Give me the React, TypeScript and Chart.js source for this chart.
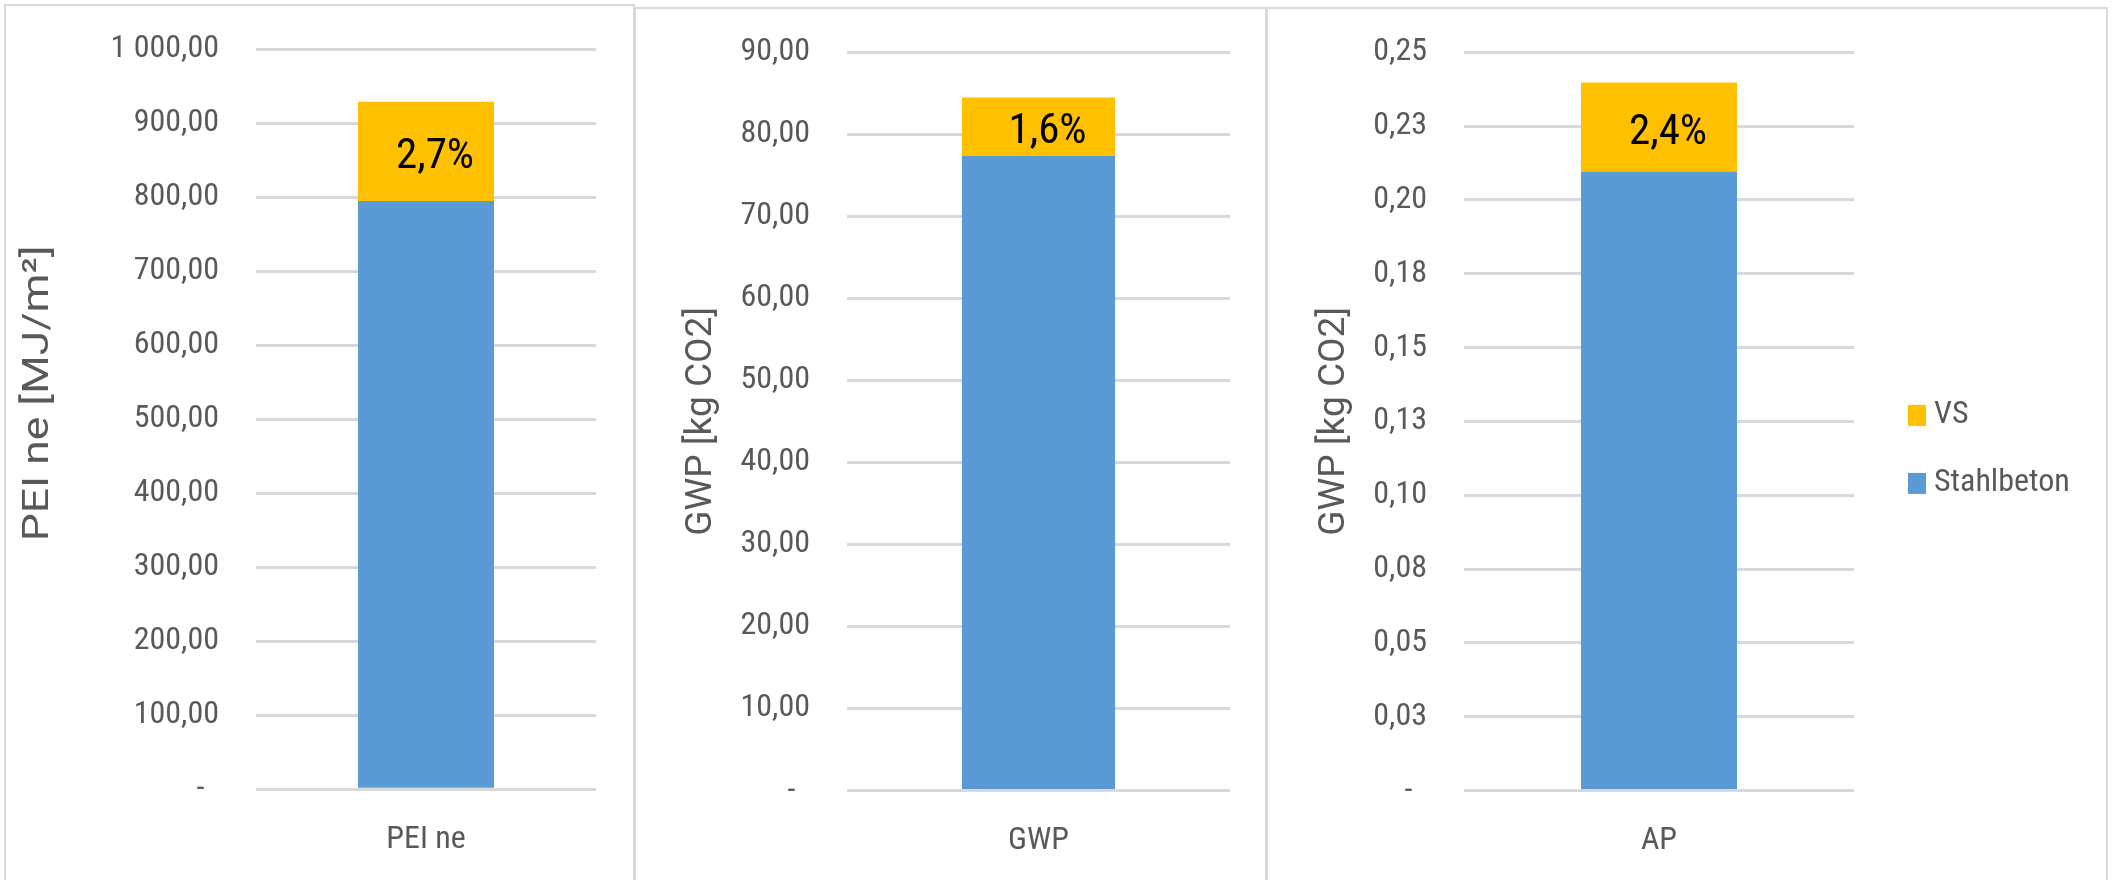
import React, { useEffect, useRef } from "react";
import { Chart, registerables } from "chart.js";

Chart.register(...registerables);

// ---------- data ----------
const SERIES_NAMES = ["Stahlbeton", "VS"];
const SERIES_COLORS = ["#5B9BD5", "#FFC000"];
const LEGEND_ORDER = ["VS", "Stahlbeton"];

const PEI_CATEGORIES = ["PEI ne"];
const PEI_STAHLBETON = [795];
const PEI_VS = [134];
const PEI_SHARE = ["2,7%"];
const PEI_RANGE = [0, 1000, 100];
const PEI_TICKS = ["-", "100,00", "200,00", "300,00", "400,00", "500,00", "600,00", "700,00", "800,00", "900,00", "1 000,00"];
const PEI_TITLE = "PEI ne [MJ/m²]";

const GWP_CATEGORIES = ["GWP"];
const GWP_STAHLBETON = [77.4];
const GWP_VS = [7.1];
const GWP_SHARE = ["1,6%"];
const GWP_RANGE = [0, 90, 10];
const GWP_TICKS = ["-", "10,00", "20,00", "30,00", "40,00", "50,00", "60,00", "70,00", "80,00", "90,00"];
const GWP_TITLE = "GWP [kg CO2]";

const AP_CATEGORIES = ["AP"];
const AP_STAHLBETON = [0.2096];
const AP_VS = [0.0302];
const AP_SHARE = ["2,4%"];
const AP_RANGE = [0, 0.25, 0.025];
const AP_TICKS = ["-", "0,03", "0,05", "0,08", "0,10", "0,13", "0,15", "0,18", "0,20", "0,23", "0,25"];
const AP_TITLE = "GWP [kg CO2]";

// ---------- styling ----------
const FAMILY = "Roboto, 'Open Sans', sans-serif";
const COND = "normal condensed"; // font-stretch via the font shorthand
const TEXT_GREY = "#595959";
const GRID = "#D9D9D9";

type PanelCfg = {
  categories: string[];
  stahl: number[];
  vs: number[];
  share: string[];
  range: number[];
  ticks: string[];
  title: string;
  titleSize: number;
  titleStretch: number;
  left: number;
  top: number;
  width: number;
  canvasW: number;
  canvasH: number;
  yAxisW: number;
  xAxisH: number;
  padTop: number;
  padRight: number;
  titleX: number;
  titleDY: number;
  legend: boolean;
};

const PANELS: PanelCfg[] = [
  {
    categories: PEI_CATEGORIES, stahl: PEI_STAHLBETON, vs: PEI_VS, share: PEI_SHARE,
    range: PEI_RANGE, ticks: PEI_TICKS, title: PEI_TITLE, titleSize: 37, titleStretch: 1.2,
    left: 4, top: 4, width: 631, canvasW: 627, canvasH: 874,
    yAxisW: 250, xAxisH: 90.7, padTop: 43.3, padRight: 37,
    titleX: 33, titleDY: -26, legend: false,
  },
  {
    categories: GWP_CATEGORIES, stahl: GWP_STAHLBETON, vs: GWP_VS, share: GWP_SHARE,
    range: GWP_RANGE, ticks: GWP_TICKS, title: GWP_TITLE, titleSize: 37, titleStretch: 1,
    left: 634, top: 7, width: 633, canvasW: 629, canvasH: 871,
    yAxisW: 211, xAxisH: 89.5, padTop: 43.3, padRight: 35,
    titleX: 66, titleDY: 0, legend: false,
  },
  {
    categories: AP_CATEGORIES, stahl: AP_STAHLBETON, vs: AP_VS, share: AP_SHARE,
    range: AP_RANGE, ticks: AP_TICKS, title: AP_TITLE, titleSize: 37, titleStretch: 1,
    left: 1266, top: 7, width: 842, canvasW: 838, canvasH: 871,
    yAxisW: 196, xAxisH: 89.5, padTop: 43.3, padRight: 252,
    titleX: 67, titleDY: 0, legend: true,
  },
];

function makeOverlay(cfg: PanelCfg) {
  return {
    id: "overlay",
    afterDatasetsDraw(chart: any) {
      const ctx = chart.ctx;
      const meta = chart.getDatasetMeta(1);
      ctx.save();
      ctx.font = `${COND} 43px ${FAMILY}`;
      ctx.fillStyle = "#000000";
      ctx.textAlign = "center";
      ctx.textBaseline = "middle";
      meta.data.forEach((el: any, i: number) => {
        const cy = (el.y + el.base) / 2;
        ctx.fillText(cfg.share[i], el.x + 9, cy + 6);
      });
      ctx.restore();
    },
    afterDraw(chart: any) {
      const ctx = chart.ctx;
      const area = chart.chartArea;
      const midY = (area.top + area.bottom) / 2;
      ctx.save();
      ctx.translate(cfg.titleX, midY + cfg.titleDY);
      ctx.rotate(-Math.PI / 2);
      ctx.scale(cfg.titleStretch, 1);
      ctx.font = `normal normal ${cfg.titleSize}px ${FAMILY}`;
      ctx.fillStyle = TEXT_GREY;
      ctx.textAlign = "center";
      ctx.textBaseline = "middle";
      ctx.fillText(cfg.title, 0, 0);
      ctx.restore();

      if (cfg.legend) {
        ctx.save();
        ctx.font = `${COND} 32px ${FAMILY}`;
        ctx.textAlign = "left";
        ctx.textBaseline = "middle";
        const bx = area.right + 54;
        LEGEND_ORDER.forEach((name, k) => {
          const idx = SERIES_NAMES.indexOf(name);
          const cy = midY - 6 + k * 68;
          ctx.fillStyle = SERIES_COLORS[idx];
          ctx.fillRect(bx, cy - 10.5, 18, 21);
          ctx.fillStyle = TEXT_GREY;
          ctx.fillText(name, bx + 26, cy);
        });
        ctx.restore();
      }
    },
  };
}

function Panel({ cfg }: { cfg: PanelCfg }) {
  const ref = useRef<HTMLCanvasElement>(null);
  useEffect(() => {
    const canvas = ref.current!;
    const tickFont = { family: FAMILY, size: 32, weight: COND } as any;
    const chart = new Chart(canvas, {
      type: "bar",
      data: {
        labels: cfg.categories,
        datasets: [
          {
            label: SERIES_NAMES[0],
            data: cfg.stahl,
            backgroundColor: SERIES_COLORS[0],
            barPercentage: 0.4,
            categoryPercentage: 1,
            borderWidth: 0,
          },
          {
            label: SERIES_NAMES[1],
            data: cfg.vs,
            backgroundColor: SERIES_COLORS[1],
            barPercentage: 0.4,
            categoryPercentage: 1,
            borderWidth: 0,
          },
        ],
      },
      options: {
        animation: false,
        responsive: false,
        maintainAspectRatio: false,
        devicePixelRatio: 1,
        layout: { padding: { top: cfg.padTop, right: cfg.padRight, left: 0, bottom: 0 } },
        plugins: { legend: { display: false }, tooltip: { enabled: false } },
        scales: {
          x: {
            stacked: true,
            grid: { display: false },
            border: { display: false },
            ticks: { font: tickFont, color: TEXT_GREY, padding: 23 },
            afterFit: (s: any) => {
              s.height = cfg.xAxisH;
              s.paddingLeft = 0;
              s.paddingRight = 0;
            },
          },
          y: {
            stacked: true,
            min: cfg.range[0],
            max: cfg.range[1],
            ticks: {
              stepSize: cfg.range[2],
              font: tickFont,
              color: TEXT_GREY,
              padding: 37,
              callback: (_v: any, i: number) => {
                const t = cfg.ticks[i] ?? "";
                return t === "-" ? "-  " : t;
              },
            },
            grid: { color: GRID, lineWidth: 3, drawTicks: false },
            border: { display: false },
            afterFit: (s: any) => {
              s.width = cfg.yAxisW;
              s.paddingTop = 0;
              s.paddingBottom = 0;
            },
          },
        },
      },
      plugins: [makeOverlay(cfg)],
    } as any);
    return () => chart.destroy();
  }, []);
  return (
    <div
      style={{
        position: "absolute",
        left: cfg.left,
        top: cfg.top,
        width: cfg.width,
        height: 900,
        border: `2px solid ${GRID}`,
        boxSizing: "border-box",
        background: "#ffffff",
      }}
    >
      <canvas
        ref={ref}
        width={cfg.canvasW}
        height={cfg.canvasH}
        style={{ display: "block", width: cfg.canvasW, height: cfg.canvasH }}
      />
    </div>
  );
}

export default function App() {
  return (
    <div
      style={{
        position: "absolute",
        left: 0,
        top: 0,
        width: 2114,
        height: 880,
        overflow: "hidden",
        background: "#ffffff",
      }}
    >
      {PANELS.map((p, i) => (
        <Panel key={i} cfg={p} />
      ))}
    </div>
  );
}
